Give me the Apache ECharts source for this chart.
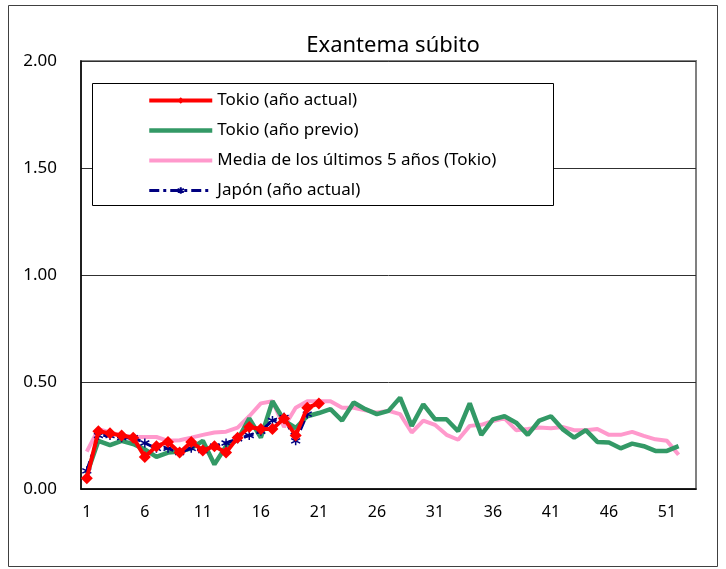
<!DOCTYPE html>
<html>
<head>
<meta charset="utf-8">
<script src="https://cdn.jsdelivr.net/npm/echarts@6/dist/echarts.min.js"></script>
<style>
  html, body { margin: 0; padding: 0; background: #fff; }
  #chart { width: 726px; height: 569px; }
</style>
</head>
<body>
<div id="chart"></div>
<script>
// semanas
const weeks = ['1','2','3','4','5','6','7','8','9','10','11','12','13','14','15','16','17','18','19','20',
  '21','22','23','24','25','26','27','28','29','30','31','32','33','34','35','36','37','38','39','40',
  '41','42','43','44','45','46','47','48','49','50','51','52','53'];

// Tokio (año actual)
const tokyoCurrent = [0.05, 0.27, 0.26, 0.25, 0.24, 0.15, 0.20, 0.22, 0.17, 0.22, 0.18, 0.20, 0.17,
  0.24, 0.29, 0.28, 0.28, 0.33, 0.25, 0.38, 0.40];

// Tokio (año previo)
const tokyoPrev = [0.07, 0.225, 0.205, 0.225, 0.21, 0.185, 0.15, 0.17, 0.175, 0.19, 0.225, 0.115, 0.20,
  0.23, 0.33, 0.24, 0.41, 0.32, 0.285, 0.34, 0.355, 0.373, 0.32, 0.404, 0.373, 0.35, 0.365, 0.427,
  0.295, 0.396, 0.326, 0.326, 0.27, 0.40, 0.253, 0.325, 0.34, 0.31, 0.253, 0.32, 0.34, 0.28, 0.24,
  0.275, 0.22, 0.217, 0.19, 0.212, 0.20, 0.178, 0.178, 0.20];

// Media de los últimos 5 años (Tokio)
const tokyoAvg5 = [0.175, 0.28, 0.264, 0.25, 0.243, 0.243, 0.243, 0.225, 0.228, 0.24, 0.253, 0.264,
  0.268, 0.287, 0.34, 0.40, 0.41, 0.29, 0.38, 0.41, 0.41, 0.41, 0.38, 0.38, 0.368, 0.357, 0.365, 0.35,
  0.264, 0.32, 0.30, 0.253, 0.23, 0.295, 0.30, 0.318, 0.33, 0.275, 0.28, 0.287, 0.284, 0.29, 0.275,
  0.275, 0.28, 0.253, 0.253, 0.267, 0.248, 0.232, 0.225, 0.16];

// Japón (año actual)
const japanCurrent = [0.085, 0.25, 0.25, 0.24, 0.24, 0.215, 0.19, 0.19, 0.17, 0.19, 0.18, 0.20, 0.215,
  0.235, 0.25, 0.27, 0.32, 0.335, 0.225, 0.35];

const yTicks = ['0.00', '0.50', '1.00', '1.50', '2.00'];

const fontFamily = '"Noto Sans", sans-serif';
const asterisk = 'path://M5,0L5,10M0.7,2.5L9.3,7.5M0.7,7.5L9.3,2.5';

const myChart = echarts.init(document.getElementById('chart'));

const option = {
  animation: false,
  backgroundColor: '#fff',
  title: {
    text: 'Exantema súbito',
    left: 388,
    textAlign: 'center',
    top: 30,
    textStyle: { fontFamily, fontSize: 22, fontWeight: 'normal', color: '#000' }
  },
  graphic: [
    { type: 'rect', z: 0, shape: { x: 8.5, y: 5.5, width: 709, height: 561 },
      style: { fill: 'none', stroke: '#404040', lineWidth: 1 } },
    { type: 'rect', z: 5, shape: { x: 92.5, y: 83.5, width: 461, height: 122 },
      style: { fill: '#fff', stroke: '#000', lineWidth: 1 } }
  ],
  legend: {
    z: 6,
    orient: 'vertical',
    left: 142,
    top: 87,
    padding: 5,
    itemWidth: 63,
    itemHeight: 8,
    itemGap: 13,
    selectedMode: false,
    textStyle: { fontFamily, fontSize: 17, color: '#000' },
    data: [
      { name: 'Tokio (año actual)', lineStyle: { width: 4 } },
      { name: 'Tokio (año previo)', itemStyle: { opacity: 0 }, lineStyle: { width: 4.5 } },
      { name: 'Media de los últimos 5 años (Tokio)', itemStyle: { opacity: 0 }, lineStyle: { width: 4 } },
      { name: 'Japón (año actual)', lineStyle: { width: 3 } }
    ]
  },
  grid: {
    left: 81, top: 61, right: 30, bottom: 80,
    show: true, borderColor: '#808080', borderWidth: 2
  },
  xAxis: {
    type: 'category',
    data: weeks,
    boundaryGap: true,
    axisLine: { lineStyle: { color: '#000', width: 1.5 } },
    axisTick: { inside: true, length: 6, interval: (i) => i % 5 === 0, lineStyle: { color: '#000' } },
    axisLabel: { interval: (i) => i % 5 === 0, margin: 15, fontFamily, fontSize: 16, color: '#000' },
    splitLine: { show: false }
  },
  yAxis: {
    type: 'value',
    min: 0, max: 2, interval: 0.5,
    axisLine: { show: true, lineStyle: { color: '#000', width: 1.5 } },
    axisTick: { show: false },
    axisLabel: { margin: 24, fontFamily, fontSize: 17, color: '#000',
      formatter: (v) => yTicks[Math.round(v / 0.5)] },
    splitLine: { lineStyle: { color: '#303030', width: 1 } }
  },
  series: [
    {
      name: 'Media de los últimos 5 años (Tokio)', type: 'line', data: tokyoAvg5, z: 2,
      symbol: 'circle', showSymbol: false,
      lineStyle: { color: '#FF99CC', width: 4 }, itemStyle: { color: '#FF99CC' }
    },
    {
      name: 'Tokio (año previo)', type: 'line', data: tokyoPrev, z: 3,
      symbol: 'circle', showSymbol: false,
      lineStyle: { color: '#339966', width: 4.5 }, itemStyle: { color: '#339966' }
    },
    {
      name: 'Japón (año actual)', type: 'line', data: japanCurrent, z: 4,
      symbol: asterisk, symbolSize: 9, showAllSymbol: true,
      lineStyle: { color: '#000080', width: 3, type: [10, 4, 3, 4] },
      itemStyle: { color: '#000080', borderColor: '#000080', borderWidth: 1.5 }
    },
    {
      name: 'Tokio (año actual)', type: 'line', data: tokyoCurrent, z: 5,
      symbol: 'diamond', symbolSize: 12, showAllSymbol: true,
      lineStyle: { color: '#FF0000', width: 4 }, itemStyle: { color: '#FF0000' }
    }
  ]
};

myChart.setOption(option);
</script>
</body>
</html>
